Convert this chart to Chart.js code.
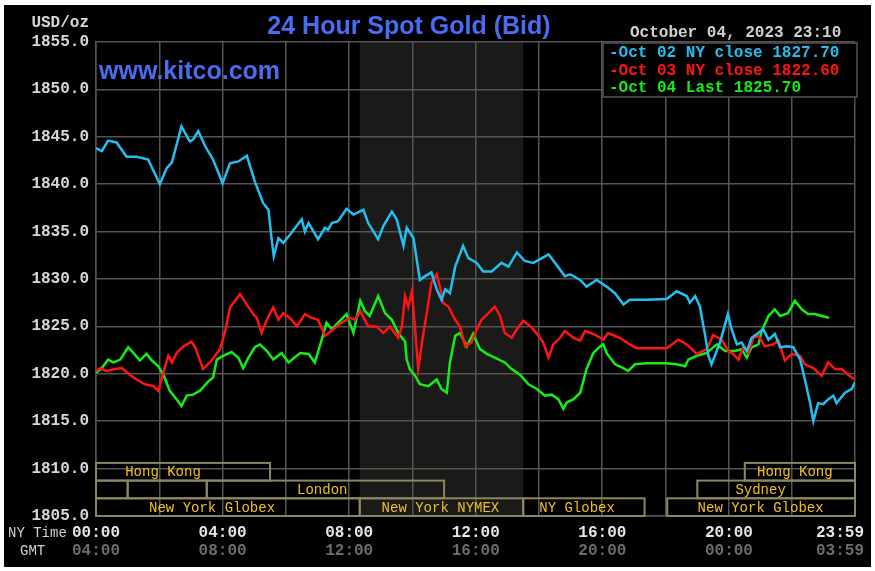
<!DOCTYPE html>
<html>
<head>
<meta charset="utf-8">
<script src="https://cdn.jsdelivr.net/npm/chart.js@4.4.0/dist/chart.umd.min.js"></script>
<style>
  html, body { margin: 0; padding: 0; background: #fff; }
  canvas { display: block; }
</style>
</head>
<body>
<canvas id="goldChart" width="875" height="571"></canvas>
<script>
// minutes after 00:00 NY time, bid in USD/oz
var oct02Times = [0,11,23,39,58,77,99,121,134,144,162,178,184,194,207,222,240,254,270,286,301,317,327,333,337,346,355,368,390,396,403,421,434,440,447,459,475,488,507,516,535,545,561,570,583,589,595,602,614,624,636,646,655,662,671,681,696,706,722,734,750,769,782,798,813,829,842,858,877,889,899,918,930,949,968,984,1000,1012,1044,1082,1101,1120,1126,1136,1145,1155,1161,1167,1183,1198,1205,1215,1224,1234,1243,1253,1265,1275,1287,1297,1310,1322,1335,1344,1354,1360,1369,1379,1388,1398,1404,1420,1433,1439];
var oct02Prices = [1843.8,1843.5,1844.6,1844.4,1842.9,1842.9,1842.6,1840.0,1841.7,1842.3,1846.1,1844.5,1844.7,1845.6,1844.0,1842.6,1840.1,1842.2,1842.4,1843.0,1840.3,1838.0,1837.3,1834.2,1832.4,1834.3,1833.8,1834.7,1836.3,1835.0,1835.9,1834.2,1835.4,1835.2,1835.9,1836.1,1837.4,1836.8,1837.3,1835.9,1834.2,1835.6,1837.1,1836.3,1833.5,1835.4,1834.9,1834.3,1829.9,1830.3,1830.7,1828.9,1827.8,1828.9,1828.5,1831.3,1833.5,1832.2,1831.7,1830.8,1830.8,1831.7,1831.3,1832.8,1831.9,1831.7,1832.1,1832.6,1831.2,1830.3,1830.5,1829.9,1829.2,1829.9,1829.2,1828.5,1827.3,1827.8,1827.8,1827.9,1828.7,1828.2,1827.5,1828.2,1827.1,1824.0,1821.9,1821.0,1823.3,1826.3,1824.7,1823.1,1823.3,1822.4,1823.8,1824.2,1824.7,1823.6,1824.2,1822.8,1822.9,1822.8,1821.5,1819.4,1816.9,1815.0,1816.9,1816.8,1817.3,1817.7,1816.9,1818.0,1818.4,1819.1];

var oct03Times = [0,8,20,36,49,64,77,93,109,118,125,137,144,153,166,181,188,203,219,235,245,254,273,286,298,305,314,324,336,346,355,368,381,396,409,421,434,450,466,482,491,501,516,532,545,557,573,580,586,592,599,605,611,618,627,636,646,652,658,668,681,690,700,712,722,731,744,756,766,775,788,798,810,826,839,848,858,867,880,889,905,918,927,943,956,962,971,993,1012,1025,1082,1104,1120,1139,1158,1170,1186,1199,1208,1218,1227,1237,1246,1256,1268,1284,1294,1306,1319,1335,1344,1360,1376,1388,1401,1414,1426,1439];
var oct03Prices = [1820.3,1820.6,1820.3,1820.5,1820.6,1819.9,1819.4,1818.9,1818.7,1818.2,1819.6,1821.9,1821.2,1822.2,1822.9,1823.4,1822.8,1820.5,1821.4,1822.6,1824.5,1827.0,1828.4,1827.3,1826.3,1825.9,1824.3,1825.7,1827.0,1825.7,1826.4,1825.9,1825.0,1826.3,1825.9,1825.7,1824.0,1824.7,1825.4,1825.9,1825.7,1826.6,1825.0,1825.0,1824.3,1825.0,1823.8,1825.0,1828.2,1827.1,1828.7,1824.7,1820.5,1823.3,1826.4,1829.6,1830.5,1829.2,1827.5,1827.1,1825.7,1825.0,1822.9,1823.3,1824.7,1825.7,1826.4,1827.1,1826.1,1824.3,1823.8,1824.7,1825.6,1824.9,1824.0,1823.3,1821.7,1823.1,1823.8,1824.5,1823.8,1823.5,1824.5,1824.2,1823.8,1823.6,1824.3,1823.8,1823.1,1822.7,1822.7,1823.6,1823.1,1822.1,1822.6,1824.1,1823.6,1822.4,1822.1,1821.5,1822.8,1822.2,1823.8,1824.0,1822.9,1823.1,1823.5,1821.4,1822.1,1821.9,1821.0,1820.6,1819.8,1821.2,1820.5,1820.5,1819.9,1819.4];

var oct04Times = [0,11,23,33,46,61,71,83,96,106,118,128,140,153,162,172,184,197,213,222,229,241,257,270,279,289,301,311,324,336,352,365,387,403,415,428,437,447,459,475,488,501,510,519,535,548,561,573,586,589,595,605,614,630,646,655,665,671,681,690,703,715,728,741,756,775,788,804,820,836,851,864,877,886,893,905,918,930,943,956,962,968,984,1000,1009,1022,1044,1082,1101,1117,1123,1139,1158,1177,1193,1212,1224,1234,1243,1256,1262,1275,1287,1297,1312,1325,1338,1350,1363,1376,1390];
var oct04Prices = [1820.1,1820.6,1821.5,1821.2,1821.5,1822.8,1822.2,1821.4,1822.1,1821.4,1820.8,1819.9,1818.2,1817.3,1816.6,1817.7,1817.8,1818.2,1819.2,1819.6,1821.5,1821.9,1822.3,1821.7,1820.6,1821.7,1822.8,1823.1,1822.4,1821.5,1822.2,1821.2,1822.2,1822.1,1821.2,1823.6,1825.4,1824.7,1825.4,1826.3,1824.3,1827.7,1826.6,1826.1,1828.2,1826.4,1825.7,1824.3,1823.4,1821.5,1820.5,1819.8,1818.9,1818.7,1819.4,1818.4,1818.0,1821.2,1824.0,1824.3,1822.9,1824.2,1822.6,1822.1,1821.7,1821.2,1820.5,1819.9,1818.9,1818.4,1817.7,1817.8,1817.3,1816.3,1817.0,1817.3,1818.0,1820.5,1822.2,1822.9,1823.1,1822.2,1821.0,1820.6,1820.3,1821.0,1821.1,1821.1,1821.0,1820.8,1821.5,1821.9,1822.2,1823.1,1822.4,1822.4,1822.6,1821.7,1822.8,1823.1,1824.5,1826.1,1826.8,1826.1,1826.4,1827.7,1826.8,1826.3,1826.3,1826.1,1825.9];

var seriesLabels = ['Oct 02 NY close 1827.70', 'Oct 03 NY close 1822.60', 'Oct 04 Last 1825.70'];
var seriesColors = ['#22bff0', '#ff1414', '#14ee14'];

// x tick labels (NY time and GMT), every 4 hours
var tickMinutes = [0, 240, 480, 720, 960, 1200, 1439];
var nyLabels = ['00:00', '04:00', '08:00', '12:00', '16:00', '20:00', '23:59'];
var gmtLabels = ['04:00', '08:00', '12:00', '16:00', '20:00', '00:00', '03:59'];

// trading sessions along the bottom (row 0 = top row)
var sessionNames = ['Hong Kong', '', '', 'London', 'New York Globex', 'New York NYMEX', 'NY Globex', 'New York Globex', 'Sydney', 'Hong Kong'];
var sessionStart = [0, 0, 60, 210, 0, 500, 810, 1083, 1140, 1230];
var sessionEnd = [330, 60, 210, 660, 500, 810, 1040, 1439, 1439, 1439];
var sessionRow = [0, 1, 1, 1, 2, 2, 2, 2, 1, 0];
var sessionLabelAt = [127, 0, 0, 429, 220, 653, 912, 1260, 1260, 1325];

var nymexStart = 500, nymexEnd = 810;

function toPoints(times, prices) {
  return times.map(function (t, i) { return { x: t, y: prices[i] }; });
}

var mono = '"Liberation Mono", "DejaVu Sans Mono", monospace';
var gridColor = '#545454';

var kitcoPlugin = {
  id: 'kitco',
  beforeDraw: function (chart) {
    var c = chart.ctx, a = chart.chartArea, xs = chart.scales.x;
    c.save();
    c.fillStyle = '#fff';
    c.fillRect(0, 0, chart.width, chart.height);
    c.fillStyle = '#000';
    c.fillRect(4, 5, chart.width - 8, chart.height - 9);
    var x1 = xs.getPixelForValue(nymexStart), x2 = xs.getPixelForValue(nymexEnd);
    c.fillStyle = '#1a1a18';
    c.fillRect(x1, a.top, x2 - x1, a.bottom - a.top);
    c.restore();
  },
  beforeDatasetsDraw: function (chart) {
    var c = chart.ctx, a = chart.chartArea, xs = chart.scales.x;
    var rowH = 17.7;
    c.save();
    c.strokeStyle = '#8c8760';
    c.lineWidth = 2;
    c.font = '14px ' + mono;
    c.textAlign = 'center';
    c.textBaseline = 'middle';
    for (var i = 0; i < sessionNames.length; i++) {
      var top = a.bottom - (3 - sessionRow[i]) * rowH;
      var x1 = xs.getPixelForValue(sessionStart[i]);
      var x2 = xs.getPixelForValue(sessionEnd[i]);
      c.strokeRect(x1, top, x2 - x1, rowH);
      if (sessionNames[i]) {
        c.fillStyle = '#f0c020';
        c.fillText(sessionNames[i], xs.getPixelForValue(sessionLabelAt[i]), top + rowH / 2 + 1);
      }
    }
    c.restore();
  },
  afterDraw: function (chart) {
    var c = chart.ctx, a = chart.chartArea, xs = chart.scales.x;
    c.save();
    c.textBaseline = 'middle';

    // title and site name
    c.fillStyle = '#4a6cf2';
    c.font = 'bold 25px "Liberation Sans", Arial, sans-serif';
    c.textAlign = 'center';
    c.fillText('24 Hour Spot Gold (Bid)', 409, 27);
    c.font = 'bold 25px "Liberation Sans", Arial, sans-serif';
    c.textAlign = 'left';
    c.fillText('www.kitco.com', a.left + 3, 72);

    // unit and timestamp
    c.fillStyle = '#d8d8d8';
    c.font = 'bold 16px ' + mono;
    c.textAlign = 'right';
    c.fillText('USD/oz', a.left - 7, 23);
    c.fillStyle = '#d0d0d0';
    c.textAlign = 'left';
    c.fillText('October 04, 2023 23:10', 630, 33);

    // legend box
    var lx = a.right - 252, ly = a.top + 1, lw = 254, lh = 54;
    c.fillStyle = '#000';
    c.fillRect(lx, ly, lw, lh);
    c.strokeStyle = gridColor;
    c.lineWidth = 1.5;
    c.strokeRect(lx, ly, lw, lh);
    c.font = 'bold 16px ' + mono;
    for (var i = 0; i < seriesLabels.length; i++) {
      c.fillStyle = seriesColors[i];
      c.fillText('-' + seriesLabels[i], lx + 6, ly + 10 + i * 17.5);
    }

    // x axis labels, two rows
    c.textAlign = 'left';
    c.font = '14px ' + mono;
    c.fillStyle = '#d0d0d0';
    c.fillText('NY Time', 8, 533);
    c.fillText('GMT', 20, 551);
    c.font = 'bold 16px ' + mono;
    c.textAlign = 'center';
    for (var j = 0; j < tickMinutes.length; j++) {
      var px = xs.getPixelForValue(tickMinutes[j]);
      var w = c.measureText(nyLabels[j]).width;
      px = Math.min(px, chart.width - 11 - w / 2);
      c.fillStyle = '#e6e6e6';
      c.fillText(nyLabels[j], px, 533);
      c.fillStyle = '#6c6c6c';
      c.fillText(gmtLabels[j], px, 551);
    }
    c.restore();
  }
};

var ctx = document.getElementById('goldChart').getContext('2d');
var goldChart = new Chart(ctx, {
  type: 'line',
  data: {
    datasets: [
      { label: seriesLabels[0], data: toPoints(oct02Times, oct02Prices), borderColor: seriesColors[0] },
      { label: seriesLabels[1], data: toPoints(oct03Times, oct03Prices), borderColor: seriesColors[1] },
      { label: seriesLabels[2], data: toPoints(oct04Times, oct04Prices), borderColor: seriesColors[2] }
    ]
  },
  options: {
    responsive: false,
    animation: false,
    layout: { padding: { left: 0, top: 42, right: 20, bottom: 55 } },
    elements: {
      point: { radius: 0 },
      line: { borderWidth: 2.5, tension: 0, fill: false }
    },
    scales: {
      x: {
        type: 'linear',
        min: 0,
        max: 1439,
        ticks: { display: false, stepSize: 120 },
        grid: { color: gridColor, lineWidth: 1.5, drawTicks: false },
        border: { color: gridColor, width: 1.5 },
        afterFit: function (s) { s.height = 0; }
      },
      y: {
        min: 1805,
        max: 1855,
        ticks: {
          stepSize: 5,
          padding: 7,
          color: '#d8d8d8',
          font: { family: mono, weight: 'bold', size: 16 },
          callback: function (v) { return v.toFixed(1); }
        },
        grid: { color: gridColor, lineWidth: 1.5, drawTicks: false },
        border: { color: gridColor, width: 1.5 },
        afterFit: function (s) { s.width = 96; }
      }
    },
    plugins: {
      legend: { display: false },
      tooltip: { enabled: false }
    }
  },
  plugins: [kitcoPlugin]
});
</script>
</body>
</html>
